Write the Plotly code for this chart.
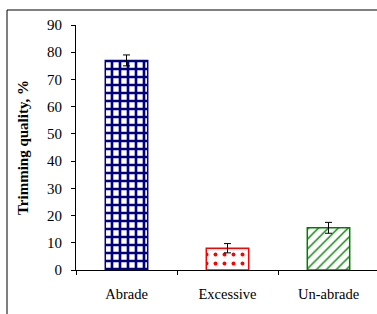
import plotly.graph_objects as go

categories = ["Abrade", "Excessive", "Un-abrade"]
values = [77, 8, 15.5]
errors = [2, 1.7, 2]
line_colors = ["#000080", "#FF0000", "#008000"]
patterns = ["+", ".", "/"]
pattern_solidity = [0.55, 0.15, 0.2]
pattern_size = [8, 9, 7]

W, H = 377, 314
L, R, T, B = 76, 0, 25, 44
pw, ph = W - L - R, H - T - B

fig = go.Figure()
for i, c in enumerate(categories):
    fig.add_trace(go.Bar(
        x=[c], y=[values[i]], width=0.42,
        marker=dict(color="white", line=dict(color=line_colors[i], width=1.5),
                    pattern=dict(shape=patterns[i], fgcolor=line_colors[i], bgcolor="white",
                                 fgopacity=1, size=pattern_size[i], solidity=pattern_solidity[i],
                                 fillmode="overlay")),
        error_y=dict(type="data", array=[errors[i]], color="black", thickness=1, width=3.5),
        showlegend=False,
    ))

fx = lambda px: (px - L) / pw
fy = lambda py: (H - B - py) / ph
# outer frame
fig.add_shape(type="line", xref="paper", yref="paper", x0=fx(7), x1=fx(400), y0=fy(10), y1=fy(10),
              line=dict(color="black", width=1))
fig.add_shape(type="line", xref="paper", yref="paper", x0=fx(7), x1=fx(7), y0=fy(10), y1=fy(330),
              line=dict(color="black", width=1))

fig.update_layout(
    width=W, height=H, margin=dict(l=L, r=R, t=T, b=B, autoexpand=False),
    paper_bgcolor="white", plot_bgcolor="white",
    font=dict(family="Liberation Serif", size=15, color="black"),
    bargap=0.58,
    xaxis=dict(range=[-0.5, -0.5 + 3 * pw / 303], showline=True, linecolor="black", linewidth=1,
               ticks="outside", ticklen=4, tickcolor="black", tickson="boundaries",
               ticklabelstandoff=11, showgrid=False, automargin=False, tickfont=dict(size=14.5)),
    yaxis=dict(range=[0, 90], dtick=10, showline=True, linecolor="black", linewidth=1,
               ticks="outside", ticklen=4, tickcolor="black", showgrid=False, zeroline=False,
               automargin=False, tickfont=dict(size=15), ticklabelstandoff=6,
               title=dict(text="<b>Trimming quality, %</b>", font=dict(size=15), standoff=14)),
)
fig.write_html("out.html", config={"displayModeBar": False},
               post_script="document.body.style.margin='0';document.body.style.overflow='hidden';")
